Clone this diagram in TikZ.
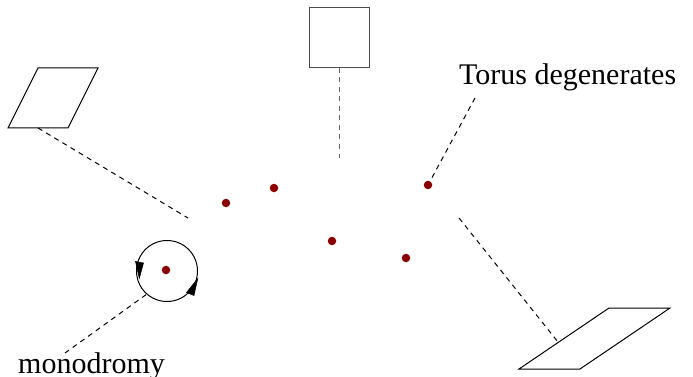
\documentclass[tikz,border=0pt]{standalone}
\usepackage{fontspec}
\setmainfont{Liberation Serif}
\definecolor{dotred}{RGB}{139,0,0}
\tikzset{
  x=1pt, y=-1pt,
  thin line/.style={line width=1pt, line join=miter},
  dashline/.style={line width=1pt, dash pattern=on 5pt off 4.5pt},
  degpoint/.style={circle, fill=dotred, inner sep=0pt, minimum size=8.5pt},
  lbl/.style={font=\fontsize{30}{36}\selectfont, inner sep=0pt, anchor=base west},
  arrowhead/.style={fill=black, draw=black, line width=0.5pt, line join=miter}
}
\begin{document}
\begin{tikzpicture}
\useasboundingbox (0,0) rectangle (693,377);
% tori
\draw[thin line] (38,68) -- (98,68) -- (68,128) -- (8,128) -- cycle;
\draw[thin line, draw=black!70] (309,8) rectangle (369,68);
\draw[thin line] (609,308) -- (670,308) -- (580,369) -- (519,369) -- cycle;
% degeneration points
\node[degpoint] (p1) at (226,203) {};
\node[degpoint] (p2) at (274,188) {};
\node[degpoint] (p3) at (428,185) {};
\node[degpoint] (p4) at (332,241) {};
\node[degpoint] (p5) at (406,258) {};
\node[degpoint] (p6) at (166,270) {};
% dashed leaders
\coordinate (a1) at (38,128);
\coordinate (a2) at (188,218);
\draw[dashline] (a1) -- (a2);
\coordinate (b1) at (339,68);
\coordinate (b2) at (339,158);
\draw[dashline, draw=black!60] (b1) -- (b2);
\coordinate (c1) at (459,218);
\coordinate (c2) at (558,342);
\draw[dashline] (c1) -- (c2);
% labels
\node[lbl] (torus) at (459,85) {Torus degenerates};
\coordinate (t1) at (475,98);
\draw[dashline] (t1) -- (p3);
\node[lbl] (mono) at (18,373) {monodromy};
\coordinate (m1) at (65,353);
\coordinate (m2) at (147,294);
\draw[dashline] (m1) -- (m2);
% monodromy loop
\draw[line width=1pt] (167,271) circle[radius=30.5];
\draw[arrowhead] (135.5,261.5) -- (143.5,263) -- (139.3,278.5) -- cycle;
\draw[arrowhead] (186.5,292.5) -- (194,295.5) -- (197.8,278.5) -- cycle;
\end{tikzpicture}
\end{document}
